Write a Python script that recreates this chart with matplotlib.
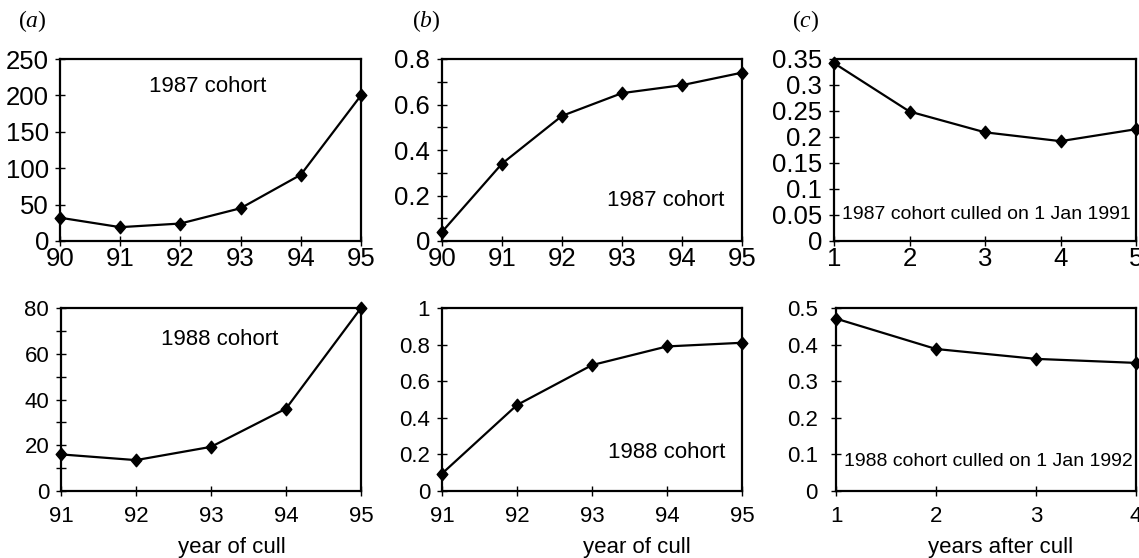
import matplotlib
matplotlib.use("Agg")
import matplotlib.pyplot as plt
from matplotlib.path import Path
from matplotlib.ticker import MultipleLocator, FuncFormatter

plt.rcParams['font.family'] = ['Liberation Sans', 'DejaVu Sans']
plt.rcParams['mathtext.fontset'] = 'custom'
plt.rcParams['mathtext.it'] = 'Liberation Serif:italic'
plt.rcParams['mathtext.rm'] = 'Liberation Serif'

# ---- data ----
years_87 = [90, 91, 92, 93, 94, 95]
years_88 = [91, 92, 93, 94, 95]
after_87 = [1, 2, 3, 4, 5]
after_88 = [1, 2, 3, 4]

a_87 = [32, 19, 24, 45, 91, 200]
b_87 = [0.04, 0.34, 0.55, 0.65, 0.685, 0.74]
c_87 = [0.342, 0.249, 0.209, 0.192, 0.215]

a_88 = [16, 13.5, 19.3, 36, 80]
b_88 = [0.095, 0.47, 0.688, 0.79, 0.81]
c_88 = [0.471, 0.388, 0.361, 0.350]

note_87 = "1987 cohort"
note_88 = "1988 cohort"
note_c87 = "1987 cohort culled on 1 Jan 1991"
note_c88 = "1988 cohort culled on 1 Jan 1992"
xlabels = ["year of cull", "year of cull", "years after cull"]
panel_tags = ["a", "b", "c"]

W, H = 1139, 558
fig = plt.figure(figsize=(W / 100, H / 100), dpi=100)


def px_axes(left, right, top, bottom):
    return fig.add_axes([left / W, 1 - bottom / H, (right - left) / W, (bottom - top) / H])


diamond = Path([(0, 1), (0.85, 0), (0, -1), (-0.85, 0), (0, 1)],
               [Path.MOVETO, Path.LINETO, Path.LINETO, Path.LINETO, Path.CLOSEPOLY])

fmt = FuncFormatter(lambda v, p: "%g" % round(v, 4))


def panel(ax, x, y, xlim, ylim, major, minor, fs, xpad, ypad):
    ax.plot(x, y, color='black', lw=1.6, marker=diamond, ms=9,
            mfc='black', mec='black', clip_on=False, zorder=5)
    ax.set_xlim(*xlim)
    ax.set_ylim(*ylim)
    ax.xaxis.set_major_locator(MultipleLocator(1))
    ax.yaxis.set_major_locator(MultipleLocator(major))
    if minor:
        ax.yaxis.set_minor_locator(MultipleLocator(minor))
    ax.yaxis.set_major_formatter(fmt)
    ax.xaxis.set_major_formatter(FuncFormatter(lambda v, p: "%d" % v))
    for s in ax.spines.values():
        s.set_linewidth(1.6)
    ax.tick_params(which='both', direction='inout', length=7, width=1.0,
                   labelsize=fs, colors='black')
    ax.tick_params(axis='x', pad=xpad)
    ax.tick_params(axis='y', pad=ypad)


top_fs = 18.5
bot_fs = 16

ax1 = px_axes(60, 361, 59, 241)
panel(ax1, years_87, a_87, (90, 95), (0, 250), 50, None, top_fs, 0.5, 4.5)
ax1.text(0.49, 0.85, note_87, ha='center', va='center', fontsize=16,
         transform=ax1.transAxes)

ax2 = px_axes(442, 742, 59, 241)
panel(ax2, years_87, b_87, (90, 95), (0, 0.8), 0.2, 0.1, top_fs, 0.5, 5)
ax2.text(0.745, 0.225, note_87, ha='center', va='center', fontsize=16,
         transform=ax2.transAxes)

ax3 = px_axes(834, 1136, 59, 241)
panel(ax3, after_87, c_87, (1, 5), (0, 0.35), 0.05, None, top_fs, 0.5, 5)
ax3.text(0.025, 0.143, note_c87, ha='left', va='center', fontsize=14,
         transform=ax3.transAxes)

ax4 = px_axes(61, 361, 308, 491)
panel(ax4, years_88, a_88, (91, 95), (0, 80), 20, 10, bot_fs, 7, 5)
ax4.text(0.53, 0.83, note_88, ha='center', va='center', fontsize=16,
         transform=ax4.transAxes)

ax5 = px_axes(442, 742, 308, 491)
panel(ax5, years_88, b_88, (91, 95), (0, 1), 0.2, None, bot_fs, 7, 5)
ax5.text(0.75, 0.21, note_88, ha='center', va='center', fontsize=16,
         transform=ax5.transAxes)

ax6 = px_axes(836, 1136, 308, 491)
panel(ax6, after_88, c_88, (1, 4), (0, 0.5), 0.1, None, bot_fs, 7, 9.5)
ax6.text(0.025, 0.16, note_c88, ha='left', va='center', fontsize=14,
         transform=ax6.transAxes)

for xc, lab in zip([232, 637, 1001], xlabels):
    fig.text(xc / W, 1 - 553 / H, lab, ha='center', va='baseline', fontsize=16)

for xl, tag in zip([18, 412, 792], panel_tags):
    fig.text(xl / W, 1 - 21 / H, r'($\mathit{%s}$)' % tag, ha='left', va='center',
             fontsize=17, family='Liberation Serif')

fig.savefig("out.png", dpi=100, facecolor='white')
